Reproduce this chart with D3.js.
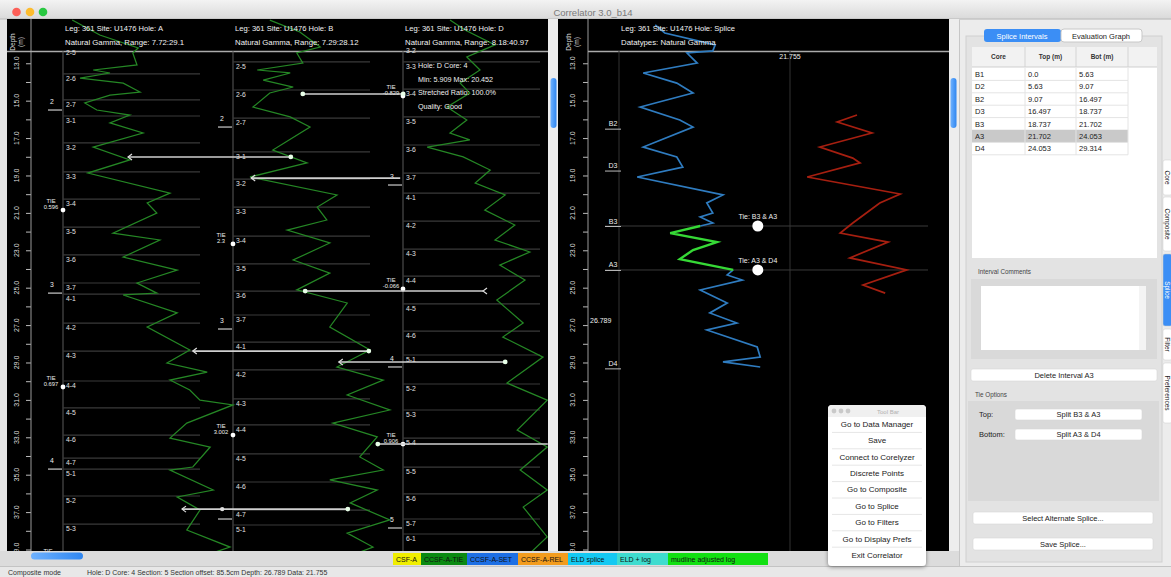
<!DOCTYPE html>
<html><head><meta charset="utf-8">
<script src="https://cdn.jsdelivr.net/npm/d3@7"></script>
<style>
body{margin:0;background:#e9e9e9;overflow:hidden}
svg{display:block;font-family:"Liberation Sans",Arial,sans-serif}
</style></head>
<body><svg id="c" width="1171" height="577"></svg>
<script>
// ---------------- DATA ----------------
const depthTicks = [13,14,15,16,17,18,19,20,21,22,23,24,25,26,27,28,29,30,31,32,33,34,35,36,37,38,39];
const depthLabels = [13,15,17,19,21,23,25,27,29,31,33,35,37,39];

// [depth m, natural gamma]
const holeA = [[10.69,3.7],[11.49,8.3],[12.18,14.7],[12.45,13.8],[13.09,14.5],[13.36,7.2],[13.52,10.0],[13.79,5.0],[14.06,12.2],[14.54,15.0],[14.70,10.0],[15.12,5.8],[15.50,7.8],[15.77,13.3],[16.19,10.0],[16.73,15.5],[17.48,7.2],[18.17,13.3],[18.87,6.3],[19.94,20.0],[20.47,16.2],[21.01,17.8],[22.08,10.5],[22.45,18.3],[23.36,12.2],[24.06,21.2],[24.75,14.5],[25.29,17.8],[25.39,12.2],[26.35,21.2],[27.10,16.2],[28.33,23.3],[29.03,19.5],[29.51,26.2],[29.94,20.0],[30.47,23.3],[31.01,25.0],[31.27,30.5],[32.24,22.8],[33.04,20.0],[33.52,26.7],[34.59,23.8],[34.75,20.0],[35.82,27.2],[36.19,21.2],[36.89,25.0],[37.96,22.8],[38.87,30.0],[39.3,26.0]];
const holeB = [[10.69,8.3],[11.33,13.3],[12.13,16.7],[12.45,12.8],[12.99,13.8],[13.36,6.2],[13.52,11.7],[13.90,7.2],[14.27,12.2],[14.59,8.3],[15.34,5.5],[15.87,11.7],[16.41,15.0],[17.64,8.8],[18.33,14.5],[19.08,5.0],[20.04,19.5],[20.69,16.2],[21.38,17.8],[21.92,11.2],[22.61,18.3],[23.52,12.2],[24.22,18.3],[25.12,12.8],[25.82,21.2],[27.10,18.3],[28.33,25.0],[29.24,19.5],[29.94,27.2],[30.74,21.2],[31.54,28.3],[32.24,18.8],[32.98,26.2],[34.05,23.3],[34.75,27.2],[35.28,18.3],[35.82,26.2],[36.51,21.7],[37.42,28.3],[38.12,21.2],[38.87,25.5],[39.3,22.0]];
const holeD = [[10.69,10.0],[11.22,12.5],[12.02,17.5],[12.66,12.8],[13.36,15.0],[14.06,11.7],[14.59,13.3],[15.34,9.5],[16.03,12.8],[16.73,10.0],[17.10,13.3],[17.48,6.2],[18.01,12.2],[18.71,16.7],[19.40,14.2],[20.04,19.2],[20.85,15.8],[21.65,20.8],[22.45,17.5],[23.09,23.3],[23.79,18.3],[24.59,22.5],[25.66,17.8],[26.89,22.2],[27.64,18.8],[28.71,25.5],[30.10,19.5],[31.01,26.2],[32.61,21.2],[33.52,26.2],[34.75,21.7],[35.82,26.2],[36.73,22.2],[38.33,26.2],[39.3,23.0]];
const spliceLog = [[10.95,9.2],[11.38,10.8],[12.02,19.2],[12.34,18.8],[12.45,14.5],[12.99,16.2],[13.52,7.2],[14.06,12.8],[14.59,15.5],[15.34,6.7],[16.03,13.3],[16.41,15.5],[17.48,7.2],[18.01,12.8],[18.55,13.8],[19.08,6.2],[20.04,20.5],[20.47,17.8],[21.01,18.8],[21.22,16.7],[21.54,18.8],[21.70,16.7]];
const spliceSel = [[21.70,16.7],[22.08,11.7],[22.56,19.5],[22.99,15.5],[23.47,13.3],[24.05,22.2]];
const spliceLow = [[24.05,22.2],[24.32,21.2],[24.59,23.7],[25.12,16.7],[25.82,21.2],[26.35,18.3],[26.89,22.8],[27.26,17.8],[28.17,26.2],[28.71,26.7],[28.97,20.5],[29.24,26.7]];
const altLog = [[15.77,14.5],[16.14,11.2],[16.73,17.0],[17.48,8.3],[18.07,13.8],[18.33,15.0],[19.08,6.2],[19.99,21.7],[20.47,18.3],[21.54,13.8],[22.08,11.7],[22.56,19.7],[23.41,13.3],[24.05,22.8],[24.86,15.5],[25.29,19.2]];

// section tops [label, depth]
const sectA = [["2-5",12.18],["2-6",13.57],["2-7",14.96],["3-1",15.82],["3-2",17.26],["3-3",18.81],["3-4",20.26],["3-5",21.76],["3-6",23.25],["3-7",24.75],["4-1",25.34],["4-2",26.89],["4-3",28.39],["4-4",29.99],["4-5",31.43],["4-6",32.88],["4-7",34.11],["5-1",34.70],["5-2",36.14],["5-3",37.64]];
const sectB = [["2-5",12.93],["2-6",14.43],["2-7",15.93],["3-1",17.74],["3-2",19.19],["3-3",20.69],["3-4",22.24],["3-5",23.73],["3-6",25.18],["3-7",26.46],["4-1",27.91],["4-2",29.40],["4-3",30.95],["4-4",32.34],["4-5",33.89],["4-6",35.39],["4-7",36.89],["5-1",37.69]];
const sectD = [["3-2",12.08],["3-3",12.93],["3-4",14.38],["3-5",15.87],["3-6",17.37],["3-7",18.87],["4-1",19.94],["4-2",21.44],["4-3",22.94],["4-4",24.38],["4-5",25.87],["4-6",27.32],["5-1",28.60],["5-2",30.15],["5-3",31.54],["5-4",33.04],["5-5",34.59],["5-6",36.03],["5-7",37.37],["6-1",38.17]];
// core bottoms [core, depth]
const coreA = [["2",15.50],["3",25.29],["4",34.70]];
const coreB = [["2",16.41],["3",27.21],["",37.37]];
const coreD = [["3",19.51],["4",29.24],["5",37.85]];
// tie points [value, depth]
const tieA = [["0.596",20.85],["0.697",30.31]];
const tieB = [["2.3",22.66],["3.002",32.88]];
const tieD = [["-0.829",14.75],["-0.066",25.07],["0.906",33.36]];
// tie lines [depth, hole, gamma, end, hole, gamma, end]
const tieLines = [
 [14.64,"B",13.8,"dot","D",2.2,"dot"],
 [18.01,"A",13.0,"arrow","B",11.8,"dot"],
 [19.14,"B",5.2,"arrow","D",1.7,"none"],
 [25.18,"B",14.2,"dot","D",15.5,"arrow"],
 [28.39,"A",23.8,"arrow","B",24.8,"dot"],
 [28.97,"B",19.8,"arrow","D",19.2,"dot"],
 [33.36,"B",26.3,"dot","D",26.3,"none"],
 [36.84,"A",22.0,"arrow","B",21.3,"dot"]
];
const holeHeaders = [["A","7.72:29.1"],["B","7.29:28.12"],["D","8.18:40.97"]];
const spliceIntervals = [["B1",0.0,5.63],["D2",5.63,9.07],["B2",9.07,16.497],["D3",16.497,18.737],["B3",18.737,21.702],["A3",21.702,24.053],["D4",24.053,29.314]];
const spliceTies = [["Tie: B3 & A3",21.702],["Tie: A3 & D4",24.053]];
const tieGamma = 26.3;
const cursorDepth = 26.789, cursorData = 21.755;
const legendLabels = ["CSF-A","CCSF-A-TIE","CCSF-A-SET","CCSF-A-REL","ELD splice","ELD + log","mudline adjusted log"];
const legendColors = ["#f0ee00","#0b8a12","#1d6fe4","#f39c1d","#14c9f2","#3fdccf","#12e012"];
const toolItems = ["Go to Data Manager","Save","Connect to Corelyzer","Discrete Points","Go to Composite","Go to Splice","Go to Filters","Go to Display Prefs","Exit Correlator"];
const sideTabs = [["Core",false],["Composite",false],["Splice",true],["Filter",false],["Preferences",false]];

// ---------------- DRAW ----------------
const svg = d3.select("#c");
const y = d3.scaleLinear().domain([12.344,39.08]).range([51,551]);
const g = {
  A: d3.scaleLinear().domain([0,30]).range([50,230]),
  B: d3.scaleLinear().domain([0,30]).range([220,400]),
  D: d3.scaleLinear().domain([0,30]).range([390,570])
};
const gS = d3.scaleLinear().domain([0,30]).range([600,780]);
const gR = d3.scaleLinear().domain([0,30]).range([770,950]);
const holeX = {A:63,B:233,D:403};

const defs = svg.append("defs");
defs.append("clipPath").attr("id","cl").append("rect").attr("x",7).attr("y",19).attr("width",541).attr("height",532);
defs.append("clipPath").attr("id","cs").append("rect").attr("x",589).attr("y",19).attr("width",359).attr("height",532);
const tg = defs.append("linearGradient").attr("id","tb").attr("x1",0).attr("x2",0).attr("y1",0).attr("y2",1);
tg.append("stop").attr("offset",0).attr("stop-color","#f3f3f3");
tg.append("stop").attr("offset",1).attr("stop-color","#d9d9d9");
const bg = defs.append("linearGradient").attr("id","thumb").attr("x1",0).attr("x2",1);
bg.append("stop").attr("offset",0).attr("stop-color","#6fb2ff");
bg.append("stop").attr("offset",1).attr("stop-color","#2f86f0");
const sh = defs.append("filter").attr("id","sh").attr("x",-0.2).attr("y",-0.2).attr("width",1.4).attr("height",1.4);
sh.append("feDropShadow").attr("dx",0).attr("dy",1).attr("stdDeviation",2).attr("flood-opacity",0.45);

// window chrome
svg.append("rect").attr("width",1171).attr("height",577).attr("fill","#e6e6e6");
svg.append("rect").attr("x",0).attr("y",0).attr("width",1171).attr("height",19).attr("fill","url(#tb)");
svg.append("line").attr("x1",0).attr("x2",1171).attr("y1",19).attr("y2",19).attr("stroke","#b8b8b8");
[["#fc5f57",16.5],["#fdbc2e",30],["#29c841",43]].forEach(c=>svg.append("circle").attr("cx",c[1]).attr("cy",12).attr("r",4.3).attr("fill",c[0]));
svg.append("text").attr("x",593).attr("y",15.5).attr("text-anchor","middle").attr("font-size",9.5).attr("fill","#7a7a7a").text("Correlator 3.0_b14");

// panels
svg.append("rect").attr("x",7).attr("y",19).attr("width",541).attr("height",532).attr("fill","#000");
svg.append("rect").attr("x",548).attr("y",19).attr("width",10).attr("height",532).attr("fill","#ededed");
svg.append("rect").attr("x",550.5).attr("y",78).attr("width",6).attr("height",50).attr("rx",3).attr("fill","url(#thumb)");
svg.append("rect").attr("x",558).attr("y",19).attr("width",391).attr("height",532).attr("fill","#000");
svg.append("rect").attr("x",949).attr("y",19).attr("width",10).attr("height",532).attr("fill","#ededed");
svg.append("rect").attr("x",950.5).attr("y",78).attr("width",6).attr("height",50).attr("rx",3).attr("fill","url(#thumb)");

// depth axes
function depthAxis(x, lx){
  const ax = svg.append("g").attr("transform",`translate(${x},0)`)
    .call(d3.axisLeft(y).tickValues(depthTicks).tickSize(5).tickFormat(""));
  ax.select(".domain").remove();
  ax.selectAll(".tick line").attr("stroke","#bbb");
  svg.append("line").attr("x1",x).attr("x2",x).attr("y1",19).attr("y2",551).attr("stroke","#9a9a9a");
  svg.append("g").selectAll("text").data(depthLabels).join("text")
    .attr("transform",d=>`translate(${lx},${y(d)}) rotate(-90)`)
    .attr("text-anchor","middle").attr("dy","0.35em").attr("font-size",7).attr("fill","#ddd")
    .text(d3.format(".1f"));
  svg.append("text").attr("transform",`translate(${lx-2},42) rotate(-90)`).attr("text-anchor","middle").attr("font-size",6.5).attr("fill","#ddd").text("Depth");
  svg.append("text").attr("transform",`translate(${lx+6},42) rotate(-90)`).attr("text-anchor","middle").attr("font-size",6.5).attr("fill","#ddd").text("(m)");
}
depthAxis(31,17);
depthAxis(588,573);

// header lines
svg.append("line").attr("x1",7).attr("x2",548).attr("y1",51.5).attr("y2",51.5).attr("stroke","#aaa").attr("stroke-width",1.5);
svg.append("line").attr("x1",588).attr("x2",949).attr("y1",51.5).attr("y2",51.5).attr("stroke","#aaa").attr("stroke-width",1.5);

// composite tracks
const comp = svg.append("g").attr("clip-path","url(#cl)");
const holeData = {A:[holeA,sectA,coreA,tieA],B:[holeB,sectB,coreB,tieB],D:[holeD,sectD,coreD,tieD]};
Object.keys(holeData).forEach(h=>{
  const [data,sect] = holeData[h];
  const x0 = holeX[h];
  comp.append("line").attr("x1",x0).attr("x2",x0).attr("y1",51).attr("y2",551).attr("stroke","#5a5a5a");
  comp.append("g").selectAll("line").data(sect.filter(s=>y(s[1])>52)).join("line")
    .attr("x1",x0).attr("x2",x0+137).attr("y1",d=>y(d[1])).attr("y2",d=>y(d[1])).attr("stroke","#3a3a3a").attr("stroke-width",1.2);
});
Object.keys(holeData).forEach(h=>{
  const data = holeData[h][0];
  comp.append("path").datum(data).attr("fill","none").attr("stroke","#258725").attr("stroke-width",1.25)
    .attr("d",d3.line().x(d=>g[h](d[1])).y(d=>y(d[0])));
});
Object.keys(holeData).forEach(h=>{
  const [,sect,cores,ties] = holeData[h];
  const x0 = holeX[h];
  comp.append("g").selectAll("text").data(sect).join("text")
    .attr("x",x0+3).attr("y",d=>y(d[1])+7).attr("font-size",6.8).attr("fill","#e0e0e0").text(d=>d[0]);
  cores.forEach(c=>{
    comp.append("line").attr("x1",x0-15).attr("x2",x0-1).attr("y1",y(c[1])).attr("y2",y(c[1])).attr("stroke","#ccc").attr("stroke-width",1.2);
    comp.append("text").attr("x",x0-11).attr("y",y(c[1])-6).attr("text-anchor","middle").attr("font-size",6.8).attr("fill","#eee").text(c[0]);
  });
  ties.forEach(t=>{
    comp.append("text").attr("x",x0-12).attr("y",y(t[1])-7).attr("text-anchor","middle").attr("font-size",5.8).attr("fill","#eee").text("TIE");
    comp.append("text").attr("x",x0-12).attr("y",y(t[1])-1).attr("text-anchor","middle").attr("font-size",5.8).attr("fill","#eee").text(t[0]);
    comp.append("circle").attr("cx",x0).attr("cy",y(t[1])).attr("r",2.4).attr("fill","#fff");
  });
});
tieLines.forEach(t=>{
  const yy = y(t[0]), xa = g[t[1]](t[2]), xb = g[t[4]](t[5]);
  comp.append("line").attr("x1",xa).attr("x2",xb).attr("y1",yy).attr("y2",yy).attr("stroke","#cfcfcf").attr("stroke-width",1.6);
  [[xa,t[3]],[xb,t[6]]].forEach(([x,k])=>{
    if(k==="dot") comp.append("circle").attr("cx",x).attr("cy",yy).attr("r",2.4).attr("fill","#e8ffe8");
    if(k==="arrow") comp.append("path").attr("d",`M${x+4},${yy-3}L${x},${yy}L${x+4},${yy+3}`).attr("fill","none").attr("stroke","#ddd").attr("stroke-width",1.2);
  });
});
comp.append("circle").attr("cx",g.A(28.7)).attr("cy",y(36.84)).attr("r",2.2).attr("fill","#ddd");
comp.append("text").attr("x",48).attr("y",y(39.2)).attr("text-anchor","middle").attr("font-size",5.8).attr("fill","#eee").text("TIE");

// hole headers
holeHeaders.forEach(hh=>{
  const x0 = holeX[hh[0]]+2;
  svg.append("text").attr("x",x0).attr("y",31).attr("font-size",7.6).attr("fill","#f2f2f2").text(`Leg: 361 Site: U1476 Hole: ${hh[0]}`);
  svg.append("text").attr("x",x0).attr("y",45).attr("font-size",7.8).attr("fill","#f2f2f2").text(`Natural Gamma, Range: ${hh[1]}`);
});
// info popup on hole D
["Hole: D Core: 4","Min: 5.909 Max: 20.452","Stretched Ratio: 100.0%","Quality: Good"].forEach((t,i)=>
  svg.append("text").attr("x",418).attr("y",68+i*13.7).attr("font-size",7.2).attr("fill","#f0f0f0").text(t));

// splice panel
const sp = svg.append("g").attr("clip-path","url(#cs)");
sp.append("line").attr("x1",619).attr("x2",619).attr("y1",51).attr("y2",551).attr("stroke","#333");
sp.append("line").attr("x1",790).attr("x2",790).attr("y1",51).attr("y2",551).attr("stroke","#333");
spliceTies.forEach(t=>sp.append("line").attr("x1",605).attr("x2",928).attr("y1",y(t[1])).attr("y2",y(t[1])).attr("stroke","#3a3a3a"));
const sl = d3.line().x(d=>gS(d[1])).y(d=>y(d[0]));
sp.append("path").datum(spliceLog).attr("fill","none").attr("stroke","#2f7cc0").attr("stroke-width",1.7).attr("d",sl);
sp.append("path").datum(spliceLow).attr("fill","none").attr("stroke","#2f7cc0").attr("stroke-width",1.7).attr("d",sl);
sp.append("path").datum(spliceSel).attr("fill","none").attr("stroke","#36d936").attr("stroke-width",2.4).attr("d",sl);
sp.append("path").datum(altLog).attr("fill","none").attr("stroke","#a61f10").attr("stroke-width",1.7)
  .attr("d",d3.line().x(d=>gR(d[1])).y(d=>y(d[0])));
spliceTies.forEach(t=>{
  sp.append("circle").attr("cx",gS(tieGamma)).attr("cy",y(t[1])).attr("r",5.5).attr("fill","#fff");
  sp.append("text").attr("x",gS(tieGamma)).attr("y",y(t[1])-7).attr("text-anchor","middle").attr("font-size",7).attr("fill","#eee").text(t[0]);
});
spliceIntervals.filter(s=>y(s[2])>52).forEach(s=>{
  sp.append("text").attr("x",613).attr("y",y(s[2])-2.5).attr("text-anchor","middle").attr("font-size",7).attr("fill","#eee").text(s[0]);
  sp.append("line").attr("x1",605).attr("x2",621).attr("y1",y(s[2])+0.5).attr("y2",y(s[2])+0.5).attr("stroke","#bbb");
});
sp.append("text").attr("x",790).attr("y",59).attr("text-anchor","middle").attr("font-size",7).attr("fill","#eee").text(cursorData.toFixed(3));
sp.append("text").attr("x",590).attr("y",y(cursorDepth)+2).attr("font-size",7).attr("fill","#eee").text(cursorDepth.toFixed(3));
svg.append("text").attr("x",621).attr("y",31).attr("font-size",7.6).attr("fill","#f2f2f2").text("Leg: 361 Site: U1476 Hole: Splice");
svg.append("text").attr("x",621).attr("y",45).attr("font-size",7.8).attr("fill","#f2f2f2").text("Datatypes: Natural Gamma");

// bottom bar + legend
svg.append("rect").attr("x",0).attr("y",551).attr("width",959).attr("height",15).attr("fill","#dcdcdc");
svg.append("rect").attr("x",31).attr("y",552.5).attr("width",52).attr("height",7).attr("rx",3.5).attr("fill","url(#thumb)");
const lw = [28,46,51,50,49,51,100];
let lx = 393;
legendLabels.forEach((l,i)=>{
  svg.append("rect").attr("x",lx).attr("y",553).attr("width",lw[i]).attr("height",12).attr("fill",legendColors[i]);
  svg.append("text").attr("x",lx+3).attr("y",562).attr("font-size",7).attr("fill","#111").text(l);
  lx += lw[i];
});
svg.append("rect").attr("x",0).attr("y",566).attr("width",1171).attr("height",11).attr("fill","#e8e8e8");
svg.append("line").attr("x1",0).attr("x2",1171).attr("y1",566.5).attr("y2",566.5).attr("stroke","#c4c4c4");
svg.append("text").attr("x",8).attr("y",574.5).attr("font-size",7).attr("fill","#333").text("Composite mode");
svg.append("text").attr("x",87).attr("y",574.5).attr("font-size",7).attr("fill","#333")
  .text(`Hole: D Core: 4 Section: 5 Section offset: 85.5cm Depth: ${cursorDepth.toFixed(3)} Data: ${cursorData.toFixed(3)}`);

// sidebar
svg.append("rect").attr("x",959).attr("y",20).attr("width",212).attr("height",546).attr("fill","#ececec");
svg.append("line").attr("x1",959.5).attr("x2",959.5).attr("y1",20).attr("y2",566).attr("stroke","#c6c6c6");
svg.append("rect").attr("x",966).attr("y",36).attr("width",196).attr("height",526).attr("fill","#e3e3e3").attr("stroke","#d0d0d0");
svg.append("rect").attr("x",984).attr("y",29).attr("width",77).attr("height",13).attr("rx",3).attr("fill","#3b8ef5");
svg.append("text").attr("x",1022).attr("y",38.5).attr("text-anchor","middle").attr("font-size",7.5).attr("fill","#fff").text("Splice Intervals");
svg.append("rect").attr("x",1061).attr("y",29).attr("width",81).attr("height",13).attr("rx",3).attr("fill","#fff").attr("stroke","#c8c8c8");
svg.append("text").attr("x",1101).attr("y",38.5).attr("text-anchor","middle").attr("font-size",7.5).attr("fill","#222").text("Evaluation Graph");
// table
svg.append("rect").attr("x",972).attr("y",47).attr("width",185).attr("height",211).attr("fill","#fff");
svg.append("rect").attr("x",972).attr("y",47).attr("width",185).attr("height",20).attr("fill","#f2f2f2");
const colX = [972,1025,1076,1128];
[1025,1076,1128].forEach(x=>svg.append("line").attr("x1",x).attr("x2",x).attr("y1",47).attr("y2",67).attr("stroke","#d4d4d4"));
svg.append("line").attr("x1",972).attr("x2",1157).attr("y1",67).attr("y2",67).attr("stroke","#cfcfcf");
["Core","Top (m)","Bot (m)"].forEach((h,i)=>svg.append("text").attr("x",(colX[i]+colX[i+1])/2).attr("y",59).attr("text-anchor","middle").attr("font-size",6.5).attr("font-weight","bold").attr("fill","#333").text(h));
const fmt = v => v===0 ? "0.0" : String(v);
spliceIntervals.forEach((r,i)=>{
  const ry = 68 + i*12.4;
  if(r[0]==="A3") svg.append("rect").attr("x",972).attr("y",ry).attr("width",156).attr("height",12.4).attr("fill","#c9c9c9");
  svg.append("line").attr("x1",972).attr("x2",1128).attr("y1",ry+12.4).attr("y2",ry+12.4).attr("stroke","#e4e4e4");
  [1025,1076,1128].forEach(x=>svg.append("line").attr("x1",x).attr("x2",x).attr("y1",ry).attr("y2",ry+12.4).attr("stroke","#e4e4e4"));
  [r[0],fmt(r[1]),fmt(r[2])].forEach((t,j)=>svg.append("text").attr("x",colX[j]+3).attr("y",ry+9).attr("font-size",7.5).attr("fill","#222").text(t));
});
svg.append("text").attr("x",978).attr("y",274).attr("font-size",6.3).attr("fill","#444").text("Interval Comments");
svg.append("rect").attr("x",971).attr("y",279).attr("width",186).attr("height",80).attr("fill","#d9d9d9");
svg.append("rect").attr("x",981).attr("y",286).attr("width",165).attr("height",64).attr("fill","#fff");
svg.append("rect").attr("x",1139).attr("y",286).attr("width",7).attr("height",64).attr("fill","#f4f4f4");
function button(x,yy,w,h,t){
  svg.append("rect").attr("x",x).attr("y",yy).attr("width",w).attr("height",h).attr("rx",2).attr("fill","#fff").attr("stroke","#d6d6d6").attr("stroke-width",0.6);
  svg.append("text").attr("x",x+w/2).attr("y",yy+h/2+2.7).attr("text-anchor","middle").attr("font-size",7.5).attr("fill","#222").text(t);
}
button(971,369,186,12,"Delete Interval A3");
svg.append("text").attr("x",975).attr("y",397).attr("font-size",6.3).attr("fill","#444").text("Tie Options");
svg.append("rect").attr("x",968).attr("y",401).attr("width",191).attr("height",100).attr("fill","#d9d9d9");
svg.append("text").attr("x",979).attr("y",416.5).attr("font-size",7.5).attr("fill","#222").text("Top:");
svg.append("text").attr("x",979).attr("y",436.5).attr("font-size",7.5).attr("fill","#222").text("Bottom:");
button(1015,409,127,11,"Split "+spliceIntervals[4][0]+" & "+spliceIntervals[5][0]);
button(1015,429,127,11,"Split "+spliceIntervals[5][0]+" & "+spliceIntervals[6][0]);
button(973,512,180,12,"Select Alternate Splice...");
button(973,538,180,12,"Save Splice...");
// side tabs
const tabY = [[160,195],[197,251],[254,326],[329,360],[363,423]];
sideTabs.forEach((t,i)=>{
  const [a,b] = tabY[i];
  svg.append("rect").attr("x",1163).attr("y",a).attr("width",9).attr("height",b-a).attr("rx",2).attr("fill",t[1]?"#3b8ef5":"#fff").attr("stroke","#ccc").attr("stroke-width",0.5);
  svg.append("text").attr("transform",`translate(1165,${(a+b)/2}) rotate(90)`).attr("text-anchor","middle").attr("font-size",6.5).attr("fill",t[1]?"#fff":"#222").text(t[0]);
});

// tool bar popup
const tb = svg.append("g");
tb.append("rect").attr("x",828).attr("y",405).attr("width",98).attr("height",161).attr("rx",4).attr("fill","#fff").attr("filter","url(#sh)");
tb.append("path").attr("d","M828,417V409a4,4 0 0 1 4,-4H922a4,4 0 0 1 4,4V417Z").attr("fill","#f0f0f0");
[834,841,848].forEach(x=>tb.append("circle").attr("cx",x).attr("cy",411).attr("r",2.4).attr("fill","#c9c9c9"));
tb.append("text").attr("x",877).attr("y",413.5).attr("font-size",6).attr("fill","#b0b0b0").text("Tool Bar");
toolItems.forEach((t,i)=>{
  const cy = 424 + i*16.4;
  if(i>0) tb.append("line").attr("x1",832).attr("x2",922).attr("y1",cy-8).attr("y2",cy-8).attr("stroke","#e6e6e6");
  tb.append("text").attr("x",877).attr("y",cy+2.8).attr("text-anchor","middle").attr("font-size",8).attr("fill","#222").text(t);
});
</script></body></html>
